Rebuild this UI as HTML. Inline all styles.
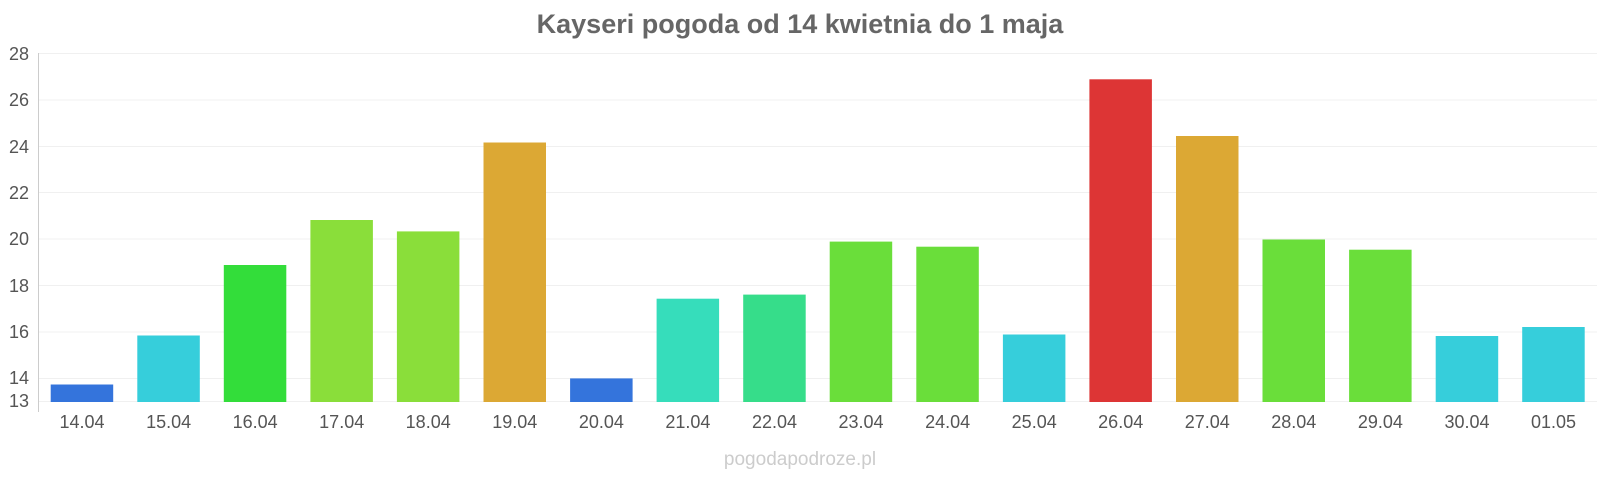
<!DOCTYPE html>
<html><head><meta charset="utf-8"><style>
body{margin:0;background:#fff}
svg text{font-family:"Liberation Sans",sans-serif}
</style></head><body>
<svg width="1600" height="480" xmlns="http://www.w3.org/2000/svg">
<text x="800" y="33" text-anchor="middle" font-size="27" font-weight="bold" fill="#666">Kayseri pogoda od 14 kwietnia do 1 maja</text>
<g stroke="#f0f0f0" stroke-width="1">
<line x1="38" x2="1597" y1="53.5" y2="53.5"/><line x1="38" x2="1597" y1="100" y2="100"/>
<line x1="38" x2="1597" y1="146.5" y2="146.5"/><line x1="38" x2="1597" y1="192.5" y2="192.5"/>
<line x1="38" x2="1597" y1="239" y2="239"/><line x1="38" x2="1597" y1="285.5" y2="285.5"/>
<line x1="38" x2="1597" y1="332" y2="332"/><line x1="38" x2="1597" y1="378.5" y2="378.5"/>
<line x1="38" x2="1597" y1="401.5" y2="401.5"/>
</g>
<line x1="38.5" x2="38.5" y1="53" y2="412" stroke="#ccc"/>
<g font-size="18" fill="#555" text-anchor="end">
<text x="29" y="60">28</text><text x="29" y="106">26</text><text x="29" y="153">24</text>
<text x="29" y="199">22</text><text x="29" y="245">20</text><text x="29" y="292">18</text>
<text x="29" y="338">16</text><text x="29" y="384">14</text><text x="29" y="407">13</text>
</g>
<g>
<rect x="50.7" y="384.5" width="62.5" height="17.5" fill="#3474dc"/>
<rect x="137.3" y="335.5" width="62.5" height="66.5" fill="#36cedb"/>
<rect x="223.8" y="265" width="62.5" height="137" fill="#33dd3a"/>
<rect x="310.4" y="220" width="62.5" height="182" fill="#8ade3a"/>
<rect x="396.9" y="231.4" width="62.5" height="170.6" fill="#8ade3a"/>
<rect x="483.5" y="142.5" width="62.5" height="259.5" fill="#dca834"/>
<rect x="570.1" y="378.4" width="62.5" height="23.6" fill="#3474dc"/>
<rect x="656.6" y="298.7" width="62.5" height="103.3" fill="#36ddbb"/>
<rect x="743.2" y="294.6" width="62.5" height="107.4" fill="#36dd8a"/>
<rect x="829.7" y="241.6" width="62.5" height="160.4" fill="#6ade3a"/>
<rect x="916.3" y="246.7" width="62.5" height="155.3" fill="#6ade3a"/>
<rect x="1002.9" y="334.5" width="62.5" height="67.5" fill="#36cedb"/>
<rect x="1089.4" y="79.3" width="62.5" height="322.7" fill="#dd3535"/>
<rect x="1176" y="136" width="62.5" height="266" fill="#dca834"/>
<rect x="1262.5" y="239.5" width="62.5" height="162.5" fill="#6ade3a"/>
<rect x="1349.1" y="249.7" width="62.5" height="152.3" fill="#6ade3a"/>
<rect x="1435.7" y="336" width="62.5" height="66" fill="#36cedb"/>
<rect x="1522.2" y="327" width="62.5" height="75" fill="#36cedb"/>
</g>
<g font-size="18" fill="#555" text-anchor="middle">
<text x="82" y="428">14.04</text><text x="168.6" y="428">15.04</text><text x="255.1" y="428">16.04</text>
<text x="341.7" y="428">17.04</text><text x="428.2" y="428">18.04</text><text x="514.8" y="428">19.04</text>
<text x="601.4" y="428">20.04</text><text x="687.9" y="428">21.04</text><text x="774.5" y="428">22.04</text>
<text x="861" y="428">23.04</text><text x="947.6" y="428">24.04</text><text x="1034.2" y="428">25.04</text>
<text x="1120.7" y="428">26.04</text><text x="1207.3" y="428">27.04</text><text x="1293.8" y="428">28.04</text>
<text x="1380.4" y="428">29.04</text><text x="1467" y="428">30.04</text><text x="1553.5" y="428">01.05</text>
</g>
<text x="800" y="465" text-anchor="middle" font-size="19" fill="#ccc">pogodapodroze.pl</text>
</svg>
</body></html>
